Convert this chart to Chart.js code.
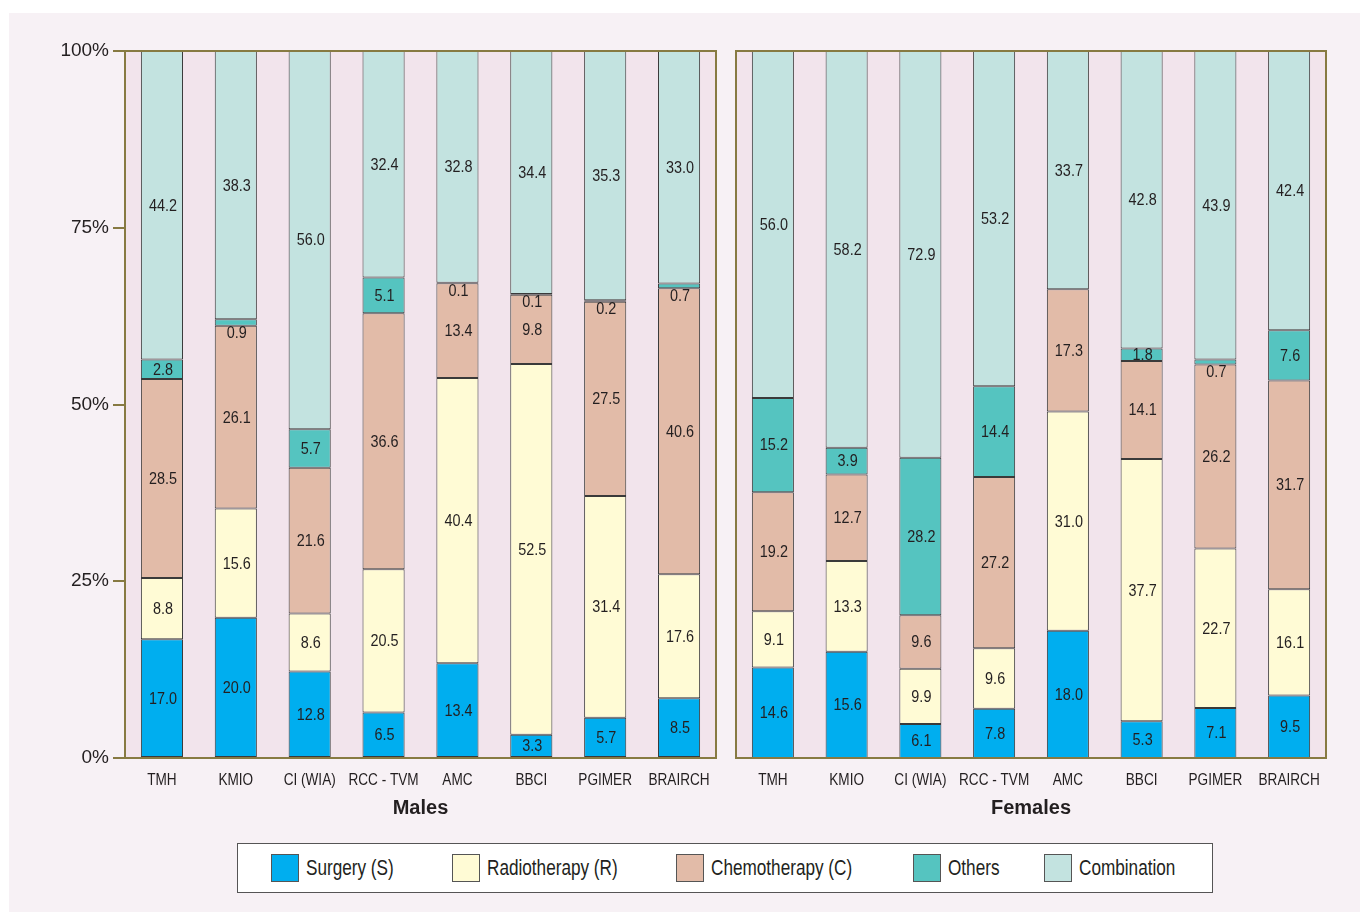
<!DOCTYPE html>
<html>
<head>
<meta charset="utf-8">
<script src="https://cdn.jsdelivr.net/npm/chart.js@4"></script>
<style>
    body { margin: 0; background: #ffffff; width: 1360px; height: 912px; overflow: hidden; position: relative; }
    .panel { position: absolute; left: 9px; top: 13px; width: 1351px; height: 899px; background: #f7f1f5; }
    canvas { position: absolute; }
    #maleChart { left: 0; top: 0; }
    #femaleChart { left: 726px; top: 0; }
    .legend {
        position: absolute; left: 237px; top: 843px; width: 976px; height: 50px;
        background: #ffffff; border: 1px solid #555; box-sizing: border-box;
        font-family: 'Liberation Sans', Arial, sans-serif;
        font-size: 22px; color: #231f20;
    }
    .legend .item { position: absolute; top: 10px; height: 28px; line-height: 28px; white-space: nowrap; }
    .legend .sw { display: inline-block; width: 26px; height: 26px; border: 1px solid #555; vertical-align: top; margin-right: 7px; }
    .legend .txt { display: inline-block; transform: scaleX(0.78); transform-origin: left center; }
</style>
</head>
<body>
<div class="panel"></div>
<canvas id="maleChart" width="726" height="830" style="width:726px;height:830px"></canvas>
<canvas id="femaleChart" width="634" height="830" style="width:634px;height:830px"></canvas>
<div class="legend" id="legend"></div>

<script>
// --- data (raw percentages as printed) ---
const centres = ['TMH', 'KMIO', 'CI (WIA)', 'RCC - TVM', 'AMC', 'BBCI', 'PGIMER', 'BRAIRCH'];
const treatments = ['Surgery (S)', 'Radiotherapy (R)', 'Chemotherapy (C)', 'Others', 'Combination'];
const yTicks = [0, 25, 50, 75, 100];

const maleSurgery     = [17.0, 20.0, 12.8, 6.5, 13.4, 3.3, 5.7, 8.5];
const maleRadio       = [8.8, 15.6, 8.6, 20.5, 40.4, 52.5, 31.4, 17.6];
const maleChemo       = [28.5, 26.1, 21.6, 36.6, 13.4, 9.8, 27.5, 40.6];
const maleOthers      = [2.8, 0.9, 5.7, 5.1, 0.1, 0.1, 0.2, 0.7];
const maleCombination = [44.2, 38.3, 56.0, 32.4, 32.8, 34.4, 35.3, 33.0];

const femaleSurgery     = [14.6, 15.6, 6.1, 7.8, 18.0, 5.3, 7.1, 9.5];
const femaleRadio       = [9.1, 13.3, 9.9, 9.6, 31.0, 37.7, 22.7, 16.1];
const femaleChemo       = [19.2, 12.7, 9.6, 27.2, 17.3, 14.1, 26.2, 31.7];
const femaleOthers      = [15.2, 3.9, 28.2, 14.4, 0, 1.8, 0.7, 7.6];
const femaleCombination = [56.0, 58.2, 72.9, 53.2, 33.7, 42.8, 43.9, 42.4];

const colours = ['#00aeef', '#fffbd5', '#e2bba8', '#55c4c0', '#c3e3e0'];

const OLIVE = '#877a42';
const TEXT = '#231f20';
const SANS = "'Liberation Sans', Arial, sans-serif";

// build legend
const legendEl = document.getElementById('legend');
const legendX = [33, 214, 438, 675, 806];
treatments.forEach((t, i) => {
    const d = document.createElement('div');
    d.className = 'item';
    d.style.left = legendX[i] + 'px';
    d.innerHTML = '<span class="sw" style="background:' + colours[i] + '"></span><span class="txt">' + t + '</span>';
    legendEl.appendChild(d);
});

// plot area fill + olive frame
const frame = {
    id: 'frame',
    beforeDraw(chart) {
        const a = chart.chartArea, c = chart.ctx;
        c.save();
        c.fillStyle = '#f2e4ec';
        c.fillRect(a.left, a.top, a.right - a.left, a.bottom - a.top);
        c.restore();
    },
    afterDraw(chart) {
        const a = chart.chartArea, c = chart.ctx;
        c.save();
        c.strokeStyle = OLIVE;
        c.lineWidth = 2;
        c.strokeRect(a.left, a.top, a.right - a.left, a.bottom - a.top);
        c.restore();
    }
};

// condensed category labels under the bars
const catLabels = {
    id: 'catLabels',
    afterDraw(chart) {
        const xs = chart.scales.x, c = chart.ctx;
        c.save();
        c.fillStyle = TEXT;
        c.font = '17px ' + SANS;
        c.textAlign = 'center';
        c.textBaseline = 'middle';
        chart.data.labels.forEach((lab, i) => {
            c.save();
            c.translate(xs.getPixelForTick(i), chart.chartArea.bottom + 22);
            c.scale(0.8, 1);
            c.fillText(lab, 0, 0);
            c.restore();
        });
        c.restore();
    }
};

// printed values inside segments
const values = {
    id: 'values',
    afterDatasetsDraw(chart) {
        const c = chart.ctx;
        c.save();
        c.fillStyle = TEXT;
        c.font = '16px ' + SANS;
        c.textAlign = 'center';
        c.textBaseline = 'middle';
        chart.data.datasets.forEach((ds, di) => {
            const meta = chart.getDatasetMeta(di);
            meta.data.forEach((bar, i) => {
                const raw = ds.raw[i];
                if (!raw) return;
                const p = bar.getProps(['x', 'y', 'base'], true);
                let y = (p.y + p.base) / 2;
                if (Math.abs(p.base - p.y) < 10) y = p.base + 7;
                c.save();
                c.translate(p.x + 1, y + 1);
                c.scale(0.9, 1);
                c.fillText(raw.toFixed(1), 0, 0);
                c.restore();
            });
        });
        c.restore();
    }
};

function makeChart(id, title, series, showY, pad) {
    const totals = centres.map((_, i) => series.reduce((s, arr) => s + arr[i], 0));
    const datasets = series.map((arr, k) => ({
        label: treatments[k],
        raw: arr,
        data: arr.map((v, i) => v / totals[i] * 100),
        backgroundColor: colours[k],
        borderColor: '#3a3a3a',
        borderWidth: 1,
        borderSkipped: false,
        barPercentage: 0.57,
        categoryPercentage: 1
    }));
    return new Chart(document.getElementById(id), {
        type: 'bar',
        data: { labels: centres, datasets: datasets },
        plugins: [frame, values, catLabels],
        options: {
            responsive: false,
            animation: false,
            layout: { padding: pad },
            plugins: { legend: { display: false }, tooltip: { enabled: false } },
            scales: {
                x: {
                    stacked: true,
                    grid: { display: false },
                    border: { display: false },
                    ticks: { display: false },
                    title: { display: true, text: title, color: TEXT, font: { family: SANS, size: 20, weight: 'bold' }, padding: { top: 4, bottom: 10 } },
                    afterFit(scale) { scale.height = 72; }
                },
                y: {
                    display: showY,
                    stacked: true,
                    min: 0,
                    max: 100,
                    afterBuildTicks(scale) { scale.ticks = yTicks.map(v => ({ value: v })); },
                    grid: { drawOnChartArea: false, color: OLIVE, lineWidth: 2, tickLength: 12 },
                    border: { display: false },
                    ticks: { color: TEXT, font: { family: SANS, size: 19 }, padding: 4, callback: v => v + '%' },
                    afterFit(scale) { scale.width = showY ? 116 : 0; }
                }
            }
        }
    });
}

makeChart('maleChart', 'Males',
    [maleSurgery, maleRadio, maleChemo, maleOthers, maleCombination],
    true, { left: 9, top: 51, right: 10, bottom: 0 });

makeChart('femaleChart', 'Females',
    [femaleSurgery, femaleRadio, femaleChemo, femaleOthers, femaleCombination],
    false, { left: 10, top: 51, right: 34, bottom: 0 });
</script>
</body>
</html>
